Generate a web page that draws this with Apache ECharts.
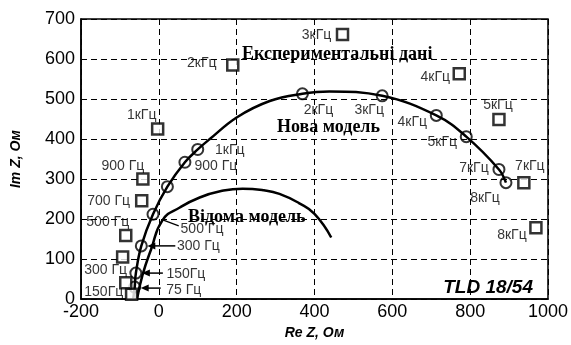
<!DOCTYPE html>
<html><head><meta charset="utf-8">
<script src="https://cdn.jsdelivr.net/npm/echarts@6/dist/echarts.min.js"></script>
<style>html,body{margin:0;padding:0;background:#fff}#c{width:571px;height:345px}</style>
</head><body><div id="c"></div>
<script>
// ---- data ----
const xMin = -200, xMax = 1000, xStep = 200;
const yMin = 0, yMax = 700, yStep = 100;

// Experimental data (squares)
const expX = [-70, -85, -93, -85, -44, -41, -3, 190, 472, 772, 874, 938, 969];
const expY = [12, 41, 105, 159, 246, 300, 425, 585, 661, 563, 449, 291, 178];
const expLabels = ['', '150Гц', '300 Гц', '500 Гц', '700 Гц', '900 Гц', '1кГц', '2кГц', '3кГц', '4кГц', '5кГц', '7кГц', '8кГц'];

// New model: curve path and marked frequency points (circles)
const novaCurveX = [-66, -62, -59, -45, -15, 22, 67, 100, 131, 200, 285, 369, 438, 574, 713, 790, 874, 892];
const novaCurveY = [0, 30, 65, 133, 212, 281, 342, 374, 400, 454, 495, 513, 519, 508, 459, 406, 324, 291];
const novaX = [-62, -59, -45, -15, 22, 67, 100, 369, 574, 713, 790, 874, 892];
const novaY = [30, 65, 133, 212, 281, 342, 374, 513, 508, 459, 406, 324, 291];
const novaLabels = ['75 Гц', '150Гц', '300 Гц', '500 Гц', '', '900 Гц', '1кГц', '2кГц', '3кГц', '4кГц', '5кГц', '7кГц', '8кГц'];
const novaArrowIdx = [0, 1, 2];

// Known model curve (no markers)
const knownX = [-56, -42, -20, 10, 54, 105, 160, 215, 270, 310, 360, 400, 443];
const knownY = [0, 60, 124, 198, 229, 254, 270, 276, 272, 263, 240, 213, 154];

// ---- label placement (pixel offsets, style only) ----
const expLabelOffsets = [[0,0],[-22,9],[-17,13],[-18,-13],[-33,0],[-20,-13],[-16,-14],[-31,-2],[-26,1],[-24,3],[-1,-14],[6,-17],[-24,7]];
const novaLabelOffsets = [[49,3],[50,1],[57,0],[49,15],[0,0],[31,4],[32,1],[16,16],[-13,14],[-24,7],[-24,5],[-25,-1],[-21,15]];

const chart = echarts.init(document.getElementById('c'), null, {renderer: 'canvas'});
const sansFont = "'Liberation Sans', Arial, sans-serif";
const serifFont = "'Liberation Serif', 'Times New Roman', serif";

function labelCfg(text, off) {
  return {
    show: text !== '', formatter: text, position: 'inside', offset: off,
    color: '#000', fontFamily: sansFont, fontSize: 14, align: 'center', verticalAlign: 'middle'
  };
}

const option = {
  animation: false,
  backgroundColor: '#fff',
  grid: {left: 81, right: 22, top: 19, bottom: 39, show: true, borderColor: '#000', borderWidth: 1.5, backgroundColor: 'transparent'},
  xAxis: {
    type: 'value', min: xMin, max: xMax, interval: xStep,
    name: 'Re Z, Ом', nameLocation: 'middle', nameGap: 23,
    nameTextStyle: {fontFamily: sansFont, fontWeight: 'bold', fontStyle: 'italic', fontSize: 14, color: '#000'},
    axisLine: {show: true, onZero: false, lineStyle: {color: '#000', width: 1.5}},
    axisTick: {show: false},
    axisLabel: {color: '#000', fontFamily: sansFont, fontSize: 18, margin: 4, formatter: v => String(v)},
    splitLine: {show: true, lineStyle: {color: '#000', width: 1, type: [6, 4]}}
  },
  yAxis: {
    type: 'value', min: yMin, max: yMax, interval: yStep,
    name: 'Im Z, Ом', nameLocation: 'middle', nameGap: 58,
    nameTextStyle: {fontFamily: sansFont, fontWeight: 'bold', fontStyle: 'italic', fontSize: 14, color: '#000'},
    axisLine: {show: true, onZero: false, lineStyle: {color: '#000', width: 1.5}},
    axisTick: {show: false},
    axisLabel: {color: '#000', fontFamily: sansFont, fontSize: 18, margin: 6, formatter: v => String(v)},
    splitLine: {show: true, lineStyle: {color: '#000', width: 1, type: [6, 4]}}
  },
  series: [
    {
      name: 'Відома модель', type: 'line', smooth: 0.5, symbol: 'none',
      data: knownX.map((x, i) => [x, knownY[i]]),
      lineStyle: {color: '#000', width: 2.5}, z: 3
    },
    {
      name: 'Нова модель лінія', type: 'line', smooth: 0.4, symbol: 'none',
      data: novaCurveX.map((x, i) => [x, novaCurveY[i]]),
      lineStyle: {color: '#000', width: 2.5}, z: 3
    },
    {
      name: 'Нова модель', type: 'scatter', symbol: 'circle', symbolSize: 11,
      itemStyle: {color: 'rgba(255,255,255,0)', borderColor: '#000', borderWidth: 2},
      data: novaX.map((x, i) => ({value: [x, novaY[i]], label: labelCfg(novaLabels[i], novaLabelOffsets[i])})),
      z: 4
    },
    {
      name: 'Експериментальні дані', type: 'scatter', symbol: 'rect', symbolSize: 11,
      itemStyle: {color: '#fff', borderColor: '#000', borderWidth: 2.5},
      data: expX.map((x, i) => ({value: [x, expY[i]], label: labelCfg(expLabels[i], expLabelOffsets[i])})),
      z: 5
    }
  ]
};
chart.setOption(option);

// annotation texts and arrows
const g = [];
function txt(t, x, y, font, align) {
  g.push({type: 'text', x: x, y: y, z: 10,
    style: {text: t, x: 0, y: 0, font: font, fill: '#000', align: align || 'left', verticalAlign: 'middle'}});
}
txt('Експериментальні дані', 242, 54, "bold 18px " + serifFont);
txt('Нова модель', 277, 127, "bold 18px " + serifFont);
txt('Відома модель', 188, 217, "bold 18px " + serifFont);
txt('TLD 18/54', 533, 288, "italic bold 19px " + sansFont, 'right');

novaArrowIdx.forEach(i => {
  const p = chart.convertToPixel({gridIndex: 0}, [novaX[i], novaY[i]]);
  const tipX = p[0] + 6, y = p[1] + (i === 0 ? 1 : 0);
  const endX = p[0] + novaLabelOffsets[i][0] - 23;
  g.push({type: 'line', z: 9, shape: {x1: tipX + 6, y1: y, x2: endX, y2: y}, style: {stroke: '#000', lineWidth: 1.5}});
  g.push({type: 'polygon', z: 9, shape: {points: [[tipX, y], [tipX + 8, y - 3.5], [tipX + 8, y + 3.5]]}, style: {fill: '#000'}});
});
// leader from "500 Гц" label to known model curve
(function () {
  const p = chart.convertToPixel({gridIndex: 0}, [knownX[3], knownY[3]]);
  g.push({type: 'line', z: 9, shape: {x1: p[0], y1: p[1], x2: p[0] + 16, y2: p[1] + 6}, style: {stroke: '#000', lineWidth: 1.2}});
})();
chart.setOption({graphic: g});
</script>
</body></html>
